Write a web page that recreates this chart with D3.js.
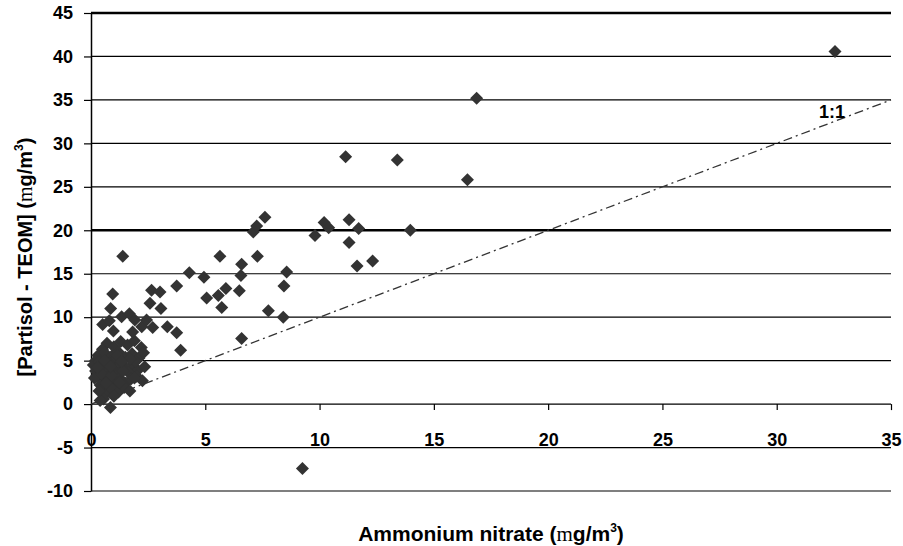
<!DOCTYPE html>
<html>
<head>
<meta charset="utf-8">
<script src="https://cdn.jsdelivr.net/npm/d3@7"></script>
<style>
body{margin:0;background:#fff;}
text{font-family:"Liberation Sans",Arial,sans-serif;font-weight:bold;fill:#000;}
</style>
</head>
<body>
<svg id="chart" width="903" height="546"></svg>
<script>
// ammonium nitrate (x) vs Partisol - TEOM difference (y)
var nitrate = [
	0.7,1.0,1.3,1.6,1.9,2.2,0.5,
	0.3,0.6,0.9,1.2,1.5,1.8,2.1,2.3,0.2,1.05,
	0.1,0.35,0.55,0.8,1.0,1.3,1.55,1.8,2.05,2.35,0.2,0.7,1.2,1.65,
	0.25,0.5,0.75,1.0,1.25,1.5,1.75,2.0,2.25,0.4,1.1,
	0.45,0.65,0.9,1.2,1.45,1.7,0.55,1.0,
	0.85,0.4,
	0.15,0.45,0.9,1.4,1.95,0.6,1.15,1.7,0.3,0.85,1.35,1.9,0.65,1.25,0.35,
	1.39,0.95,0.86,0.51,0.8,0.98,1.34,1.68,1.92,1.82,2.22,2.43,2.58,2.65,3.02,3.06,2.7,3.34,3.75,3.92,
	3.75,4.3,4.94,5.06,5.57,5.9,5.72,5.64,7.1,7.25,7.61,7.28,6.59,6.56,6.49,7.76,6.59,
	8.56,8.44,8.41,9.8,10.2,10.4,11.14,11.29,11.71,11.29,11.64,12.32,13.4,13.97,16.47,16.87,32.55,9.25
];
var difference = [
	7.0,6.6,7.2,6.8,7.3,6.5,6.3,
	5.6,5.9,5.5,6.0,5.4,5.8,5.3,5.9,5.0,5.1,
	4.5,4.8,4.2,4.7,4.0,4.6,4.1,4.5,3.9,4.3,3.8,3.6,3.5,3.6,
	3.2,2.8,3.1,2.6,3.0,2.4,2.9,3.2,2.7,2.2,2.0,
	1.6,1.2,1.8,1.4,1.9,1.5,0.6,0.9,
	-0.4,0.4,
	3.0,3.5,3.3,3.8,4.9,5.0,5.6,5.2,4.2,4.3,4.9,3.0,2.4,2.5,1.5,
	17.0,12.66,11.0,9.17,9.6,8.4,10.05,10.4,9.67,8.3,8.9,9.67,11.6,13.1,12.9,11.0,8.8,8.9,8.2,6.2,
	13.6,15.1,14.6,12.2,12.5,13.3,11.1,17.0,19.8,20.5,21.5,17.0,16.1,14.8,13.05,10.75,7.56,
	15.2,13.6,10.0,19.4,20.9,20.3,28.46,21.2,20.2,18.6,15.9,16.46,28.1,20.0,25.8,35.2,40.56,-7.4
];
var xTicks = [0,5,10,15,20,25,30,35];
var yTicks = [-10,-5,0,5,10,15,20,25,30,35,40,45];
var thickLines = [45,20];

var svg = d3.select('#chart');
var x = d3.scaleLinear().domain([0,35]).range([91,891]);
var y = d3.scaleLinear().domain([-10,45]).range([491,13]);
var plain = function(d){ return String(d); }; //hyphen minus like the original

//horizontal gridlines
svg.append('g').selectAll('line').data(yTicks).enter().append('line')
	.attr('x1', x(0)).attr('x2', x(35))
	.attr('y1', function(d){ return y(d); })
	.attr('y2', function(d){ return y(d); })
	.attr('stroke', '#000')
	.attr('stroke-width', function(d){ return thickLines.indexOf(d) >= 0 ? 2.6 : 1.2; });

//y axis on the left
var yAxis = svg.append('g')
	.attr('transform', 'translate(' + x(0) + ',0)')
	.call(d3.axisLeft(y).tickValues(yTicks).tickFormat(plain).tickSize(7).tickPadding(11).tickSizeOuter(0));
yAxis.select('.domain').attr('stroke', '#000').attr('stroke-width', 1.5);
yAxis.selectAll('.tick line').attr('stroke', '#000').attr('stroke-width', 1.2);
yAxis.selectAll('text').style('font-size', '18px').attr('font-family', null);

//x axis crosses at y = 0, labels sit lower
var xAxis = svg.append('g')
	.attr('transform', 'translate(0,' + y(0) + ')')
	.call(d3.axisBottom(x).tickValues(xTicks).tickFormat(plain).tickSize(6).tickPadding(23).tickSizeOuter(0));
xAxis.select('.domain').remove();
xAxis.selectAll('.tick line').attr('stroke', '#000').attr('stroke-width', 1.2);
xAxis.selectAll('text').style('font-size', '18px').attr('font-family', null);

//1:1 line
svg.append('line')
	.attr('x1', x(0)).attr('y1', y(0))
	.attr('x2', x(35)).attr('y2', y(35))
	.attr('stroke', '#333')
	.attr('stroke-width', 1.3)
	.attr('stroke-dasharray', '9,4,2,4');
svg.append('text')
	.attr('x', 819).attr('y', 118)
	.style('font-size', '18px')
	.text('1:1');

//points
var pts = nitrate.map(function(v, i){ return [v, difference[i]]; });
svg.append('g').selectAll('path').data(pts).enter().append('path')
	.attr('d', 'M0,-6.5L6.5,0L0,6.5L-6.5,0Z')
	.attr('transform', function(d){ return 'translate(' + x(d[0]) + ',' + y(d[1]) + ')'; })
	.attr('fill', '#333');

//axis titles
function unitTitle(sel, label){
	sel.append('tspan').text(label + ' (');
	sel.append('tspan').style('font-family', '"Liberation Serif",serif').style('font-weight', 'normal').text('m');
	sel.append('tspan').text('g/m');
	sel.append('tspan').attr('dy', -9).style('font-size', '12px').text('3');
	sel.append('tspan').attr('dy', 9).text(')');
}
var yt = svg.append('text')
	.attr('transform', 'translate(32,257) rotate(-90)')
	.attr('text-anchor', 'middle')
	.style('font-size', '20px');
unitTitle(yt, '[Partisol - TEOM]');

var xt = svg.append('text')
	.attr('x', 491).attr('y', 541)
	.attr('text-anchor', 'middle')
	.style('font-size', '21px');
unitTitle(xt, 'Ammonium nitrate');
</script>
</body>
</html>
